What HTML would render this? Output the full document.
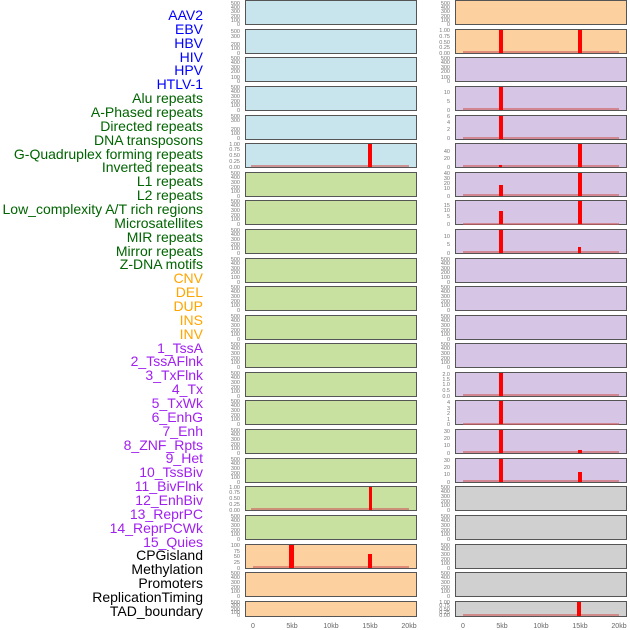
<!DOCTYPE html><html><head><style>
body{margin:0;background:#fff;width:630px;height:630px;overflow:hidden}
svg{display:block}
.l{font-family:"Liberation Sans",sans-serif;font-size:14px;text-anchor:end}
.t{font-family:"Liberation Sans",sans-serif;font-size:5.5px;fill:#777;text-anchor:end}
.x{font-family:"Liberation Sans",sans-serif;font-size:7px;fill:#666;text-anchor:middle}
.p{stroke:#555;stroke-width:1}
</style></head><body>
<svg width="630" height="630" xmlns="http://www.w3.org/2000/svg">
<g class="l">
<text x="203" y="20" fill="#0000ff">AAV2</text>
<text x="203" y="34" fill="#0000ff">EBV</text>
<text x="203" y="48" fill="#0000ff">HBV</text>
<text x="203" y="62" fill="#0000ff">HIV</text>
<text x="203" y="75" fill="#0000ff">HPV</text>
<text x="203" y="89" fill="#0000ff">HTLV-1</text>
<text x="203" y="103" fill="#006400">Alu repeats</text>
<text x="203" y="117" fill="#006400">A-Phased repeats</text>
<text x="203" y="131" fill="#006400">Directed repeats</text>
<text x="203" y="145" fill="#006400">DNA transposons</text>
<text x="203" y="159" fill="#006400">G-Quadruplex forming repeats</text>
<text x="203" y="172" fill="#006400">Inverted repeats</text>
<text x="203" y="186" fill="#006400">L1 repeats</text>
<text x="203" y="200" fill="#006400">L2 repeats</text>
<text x="203" y="214" fill="#006400">Low_complexity A/T rich regions</text>
<text x="203" y="228" fill="#006400">Microsatellites</text>
<text x="203" y="242" fill="#006400">MIR repeats</text>
<text x="203" y="256" fill="#006400">Mirror repeats</text>
<text x="203" y="269" fill="#006400">Z-DNA motifs</text>
<text x="203" y="283" fill="#ffa500">CNV</text>
<text x="203" y="297" fill="#ffa500">DEL</text>
<text x="203" y="311" fill="#ffa500">DUP</text>
<text x="203" y="325" fill="#ffa500">INS</text>
<text x="203" y="339" fill="#ffa500">INV</text>
<text x="203" y="353" fill="#a020f0">1_TssA</text>
<text x="203" y="366" fill="#a020f0">2_TssAFlnk</text>
<text x="203" y="380" fill="#a020f0">3_TxFlnk</text>
<text x="203" y="394" fill="#a020f0">4_Tx</text>
<text x="203" y="408" fill="#a020f0">5_TxWk</text>
<text x="203" y="422" fill="#a020f0">6_EnhG</text>
<text x="203" y="436" fill="#a020f0">7_Enh</text>
<text x="203" y="450" fill="#a020f0">8_ZNF_Rpts</text>
<text x="203" y="463" fill="#a020f0">9_Het</text>
<text x="203" y="477" fill="#a020f0">10_TssBiv</text>
<text x="203" y="491" fill="#a020f0">11_BivFlnk</text>
<text x="203" y="505" fill="#a020f0">12_EnhBiv</text>
<text x="203" y="519" fill="#a020f0">13_ReprPC</text>
<text x="203" y="533" fill="#a020f0">14_ReprPCWk</text>
<text x="203" y="547" fill="#a020f0">15_Quies</text>
<text x="203" y="560" fill="#000">CPGisland</text>
<text x="203" y="574" fill="#000">Methylation</text>
<text x="203" y="588" fill="#000">Promoters</text>
<text x="203" y="602" fill="#000">ReplicationTiming</text>
<text x="203" y="616" fill="#000">TAD_boundary</text>
</g>

<!-- left panels -->
<g class="p">
<rect x="245.5" y="0.5" width="171" height="24" fill="#c8e4ec"/>
<rect x="245.5" y="29.5" width="171" height="24" fill="#c8e4ec"/>
<rect x="245.5" y="57.5" width="171" height="24" fill="#c8e4ec"/>
<rect x="245.5" y="86.5" width="171" height="24" fill="#c8e4ec"/>
<rect x="245.5" y="115.5" width="171" height="24" fill="#c8e4ec"/>
<rect x="245.5" y="143.5" width="171" height="24" fill="#c8e4ec"/>
<rect x="245.5" y="172.5" width="171" height="24" fill="#c8e0a0"/>
<rect x="245.5" y="200.5" width="171" height="24" fill="#c8e0a0"/>
<rect x="245.5" y="229.5" width="171" height="24" fill="#c8e0a0"/>
<rect x="245.5" y="258.5" width="171" height="24" fill="#c8e0a0"/>
<rect x="245.5" y="286.5" width="171" height="24" fill="#c8e0a0"/>
<rect x="245.5" y="315.5" width="171" height="24" fill="#c8e0a0"/>
<rect x="245.5" y="343.5" width="171" height="24" fill="#c8e0a0"/>
<rect x="245.5" y="372.5" width="171" height="24" fill="#c8e0a0"/>
<rect x="245.5" y="400.5" width="171" height="24" fill="#c8e0a0"/>
<rect x="245.5" y="429.5" width="171" height="24" fill="#c8e0a0"/>
<rect x="245.5" y="458.5" width="171" height="24" fill="#c8e0a0"/>
<rect x="245.5" y="486.5" width="171" height="24" fill="#c8e0a0"/>
<rect x="245.5" y="515.5" width="171" height="24" fill="#c8e0a0"/>
<rect x="245.5" y="544.5" width="171" height="24" fill="#fdd0a0"/>
<rect x="245.5" y="572.5" width="171" height="24" fill="#fdd0a0"/>
<rect x="245.5" y="601.5" width="171" height="15" fill="#fdd0a0"/>
<!-- right panels -->
<rect x="455.5" y="0.5" width="171" height="24" fill="#fdd0a0"/>
<rect x="455.5" y="29.5" width="171" height="24" fill="#fdd0a0"/>
<rect x="455.5" y="57.5" width="171" height="24" fill="#d6c5e4"/>
<rect x="455.5" y="86.5" width="171" height="24" fill="#d6c5e4"/>
<rect x="455.5" y="115.5" width="171" height="24" fill="#d6c5e4"/>
<rect x="455.5" y="143.5" width="171" height="24" fill="#d6c5e4"/>
<rect x="455.5" y="172.5" width="171" height="24" fill="#d6c5e4"/>
<rect x="455.5" y="200.5" width="171" height="24" fill="#d6c5e4"/>
<rect x="455.5" y="229.5" width="171" height="24" fill="#d6c5e4"/>
<rect x="455.5" y="258.5" width="171" height="24" fill="#d6c5e4"/>
<rect x="455.5" y="286.5" width="171" height="24" fill="#d6c5e4"/>
<rect x="455.5" y="315.5" width="171" height="24" fill="#d6c5e4"/>
<rect x="455.5" y="343.5" width="171" height="24" fill="#d6c5e4"/>
<rect x="455.5" y="372.5" width="171" height="24" fill="#d6c5e4"/>
<rect x="455.5" y="400.5" width="171" height="24" fill="#d6c5e4"/>
<rect x="455.5" y="429.5" width="171" height="24" fill="#d6c5e4"/>
<rect x="455.5" y="458.5" width="171" height="24" fill="#d6c5e4"/>
<rect x="455.5" y="486.5" width="171" height="24" fill="#d0d0d0"/>
<rect x="455.5" y="515.5" width="171" height="24" fill="#d0d0d0"/>
<rect x="455.5" y="544.5" width="171" height="24" fill="#d0d0d0"/>
<rect x="455.5" y="572.5" width="171" height="24" fill="#d0d0d0"/>
<rect x="455.5" y="601.5" width="171" height="15" fill="#d0d0d0"/>
</g>

<!-- baselines -->
<g stroke="#d06060" stroke-width="1.2">
<line x1="251" x2="409" y1="166" y2="166"/>
<line x1="251" x2="409" y1="509" y2="509"/>
<line x1="253" x2="409" y1="567" y2="567"/>
<line x1="463" x2="619" y1="52" y2="52"/>
<line x1="463" x2="619" y1="109" y2="109"/>
<line x1="463" x2="619" y1="138" y2="138"/>
<line x1="463" x2="619" y1="166" y2="166"/>
<line x1="463" x2="619" y1="195" y2="195"/>
<line x1="463" x2="619" y1="224" y2="224"/>
<line x1="463" x2="619" y1="252" y2="252"/>
<line x1="463" x2="619" y1="395" y2="395"/>
<line x1="463" x2="619" y1="424" y2="424"/>
<line x1="463" x2="619" y1="452" y2="452"/>
<line x1="463" x2="619" y1="481" y2="481"/>
<line x1="463" x2="619" y1="615" y2="615"/>
</g>
<!-- bars -->
<g fill="#ff0000">
<rect x="368" y="144" width="4" height="23"/>
<rect x="369" y="487" width="3" height="23"/>
<rect x="289" y="545" width="5" height="23"/>
<rect x="368" y="554" width="4" height="14"/>
<rect x="499" y="30" width="4" height="23"/>
<rect x="578" y="30" width="4" height="23"/>
<rect x="499" y="87" width="4" height="23"/>
<rect x="499" y="116" width="4" height="23"/>
<rect x="499" y="165" width="3" height="2"/>
<rect x="578" y="144" width="4" height="23"/>
<rect x="499" y="185" width="4" height="11"/>
<rect x="578" y="173" width="4" height="23"/>
<rect x="499" y="211" width="4" height="13"/>
<rect x="578" y="201" width="4" height="23"/>
<rect x="499" y="230" width="4" height="23"/>
<rect x="578" y="247" width="3" height="6"/>
<rect x="499" y="373" width="4" height="23"/>
<rect x="499" y="401" width="4" height="23"/>
<rect x="499" y="430" width="4" height="23"/>
<rect x="578" y="450" width="4" height="3"/>
<rect x="499" y="459" width="4" height="23"/>
<rect x="578" y="472" width="4" height="10"/>
<rect x="577" y="602" width="4" height="14"/>
</g>

<!-- y ticks (generic) -->
<g class="t">
<text x="240" y="5">500</text><text x="240" y="9">400</text><text x="240" y="13">300</text><text x="240" y="18">200</text><text x="240" y="22">100</text><text x="240" y="26">0</text>
<text x="450" y="5">500</text><text x="450" y="9">400</text><text x="450" y="13">300</text><text x="450" y="18">200</text><text x="450" y="22">100</text><text x="450" y="26">0</text>
<text x="240" y="33">500</text><text x="240" y="38">300</text><text x="240" y="46">200</text><text x="240" y="50">100</text><text x="240" y="55">0</text>
<text x="450" y="32">1.00</text><text x="450" y="38">0.75</text><text x="450" y="44">0.50</text><text x="450" y="49">0.25</text><text x="450" y="55">0.00</text>
<text x="240" y="60">500</text><text x="240" y="64">400</text><text x="240" y="69">300</text><text x="240" y="73">200</text><text x="240" y="79">100</text><text x="240" y="83">0</text>
<text x="450" y="60">500</text><text x="450" y="64">400</text><text x="450" y="69">300</text><text x="450" y="73">200</text><text x="450" y="79">100</text><text x="450" y="83">0</text>
<text x="240" y="89">500</text><text x="240" y="93">400</text><text x="240" y="98">300</text><text x="240" y="103">200</text><text x="240" y="107">100</text><text x="240" y="112">0</text>
<text x="450" y="94">10</text><text x="450" y="103">5</text><text x="450" y="112">0</text>
<text x="240" y="118">500</text><text x="240" y="122">300</text><text x="240" y="131">200</text><text x="240" y="135">100</text><text x="240" y="140">0</text>
<text x="450" y="118">6</text><text x="450" y="124">4</text><text x="450" y="131">2</text><text x="450" y="140">0</text>
<text x="240" y="146">1.00</text><text x="240" y="151">0.75</text><text x="240" y="157">0.50</text><text x="240" y="163">0.25</text><text x="240" y="169">0.00</text>
<text x="450" y="153">40</text><text x="450" y="160">20</text><text x="450" y="169">0</text>
<text x="240" y="175">500</text><text x="240" y="179">400</text><text x="240" y="184">300</text><text x="240" y="189">200</text><text x="240" y="193">100</text><text x="240" y="198">0</text>
<text x="450" y="175">40</text><text x="450" y="180">30</text><text x="450" y="185">20</text><text x="450" y="190">10</text><text x="450" y="198">0</text>
<text x="240" y="203">500</text><text x="240" y="207">400</text><text x="240" y="212">300</text><text x="240" y="217">200</text><text x="240" y="221">100</text><text x="240" y="226">0</text>
<text x="450" y="207">15</text><text x="450" y="212">10</text><text x="450" y="218">5</text><text x="450" y="226">0</text>
<text x="240" y="232">500</text><text x="240" y="236">400</text><text x="240" y="241">300</text><text x="240" y="246">200</text><text x="240" y="250">100</text><text x="240" y="255">0</text>
<text x="450" y="238">10</text><text x="450" y="246">5</text><text x="450" y="255">0</text>
</g>
<g class="t">
<text x="240" y="261">500</text><text x="240" y="265">400</text><text x="240" y="270">300</text><text x="240" y="274">200</text><text x="240" y="279">100</text><text x="240" y="284">0</text>
<text x="450" y="261">500</text><text x="450" y="265">400</text><text x="450" y="270">300</text><text x="450" y="274">200</text><text x="450" y="279">100</text><text x="450" y="284">0</text>
<text x="240" y="289">500</text><text x="240" y="293">400</text><text x="240" y="298">300</text><text x="240" y="303">200</text><text x="240" y="307">100</text><text x="240" y="312">0</text>
<text x="450" y="289">500</text><text x="450" y="293">400</text><text x="450" y="298">300</text><text x="450" y="303">200</text><text x="450" y="307">100</text><text x="450" y="312">0</text>
<text x="240" y="318">500</text><text x="240" y="322">400</text><text x="240" y="327">300</text><text x="240" y="332">200</text><text x="240" y="336">100</text><text x="240" y="341">0</text>
<text x="450" y="318">500</text><text x="450" y="322">400</text><text x="450" y="327">300</text><text x="450" y="332">200</text><text x="450" y="336">100</text><text x="450" y="341">0</text>
<text x="240" y="346">500</text><text x="240" y="350">400</text><text x="240" y="355">300</text><text x="240" y="360">200</text><text x="240" y="364">100</text><text x="240" y="369">0</text>
<text x="450" y="346">500</text><text x="450" y="350">400</text><text x="450" y="355">300</text><text x="450" y="360">200</text><text x="450" y="364">100</text><text x="450" y="369">0</text>
<text x="240" y="375">500</text><text x="240" y="379">400</text><text x="240" y="384">300</text><text x="240" y="389">200</text><text x="240" y="393">100</text><text x="240" y="398">0</text>
<text x="450" y="376">2.0</text><text x="450" y="381">1.5</text><text x="450" y="386">1.0</text><text x="450" y="392">0.5</text><text x="450" y="398">0.0</text>
<text x="240" y="403">500</text><text x="240" y="407">400</text><text x="240" y="412">300</text><text x="240" y="417">200</text><text x="240" y="421">100</text><text x="240" y="426">0</text>
<text x="450" y="404">4</text><text x="450" y="410">3</text><text x="450" y="415">2</text><text x="450" y="421">1</text><text x="450" y="426">0</text>
<text x="240" y="432">500</text><text x="240" y="436">400</text><text x="240" y="441">300</text><text x="240" y="446">200</text><text x="240" y="450">100</text><text x="240" y="455">0</text>
<text x="450" y="433">30</text><text x="450" y="440">20</text><text x="450" y="447">10</text><text x="450" y="455">0</text>
<text x="240" y="461">500</text><text x="240" y="465">400</text><text x="240" y="470">300</text><text x="240" y="475">200</text><text x="240" y="479">100</text><text x="240" y="484">0</text>
<text x="450" y="462">30</text><text x="450" y="469">20</text><text x="450" y="476">10</text><text x="450" y="484">0</text>
<text x="240" y="489">1.00</text><text x="240" y="494">0.75</text><text x="240" y="500">0.50</text><text x="240" y="506">0.25</text><text x="240" y="512">0.00</text>
<text x="450" y="489">500</text><text x="450" y="493">400</text><text x="450" y="498">300</text><text x="450" y="503">200</text><text x="450" y="507">100</text><text x="450" y="512">0</text>
<text x="240" y="518">500</text><text x="240" y="522">400</text><text x="240" y="527">300</text><text x="240" y="532">200</text><text x="240" y="536">100</text><text x="240" y="541">0</text>
<text x="450" y="518">500</text><text x="450" y="522">400</text><text x="450" y="527">300</text><text x="450" y="532">200</text><text x="450" y="536">100</text><text x="450" y="541">0</text>
<text x="240" y="547">100</text><text x="240" y="553">75</text><text x="240" y="558">50</text><text x="240" y="564">25</text><text x="240" y="570">0</text>
<text x="450" y="547">500</text><text x="450" y="551">400</text><text x="450" y="556">300</text><text x="450" y="561">200</text><text x="450" y="565">100</text><text x="450" y="570">0</text>
<text x="240" y="575">500</text><text x="240" y="579">400</text><text x="240" y="584">300</text><text x="240" y="589">200</text><text x="240" y="593">100</text><text x="240" y="598">0</text>
<text x="450" y="575">500</text><text x="450" y="579">400</text><text x="450" y="584">300</text><text x="450" y="589">200</text><text x="450" y="593">100</text><text x="450" y="598">0</text>
<text x="240" y="604">500</text><text x="240" y="607">300</text><text x="240" y="611">200</text><text x="240" y="614">100</text><text x="240" y="617">0</text>
<text x="450" y="604">1.00</text><text x="450" y="607">0.75</text><text x="450" y="611">0.50</text><text x="450" y="614">0.25</text><text x="450" y="617">0.00</text>
</g>
<!-- x ticks -->
<g class="x">
<text x="253" y="628">0</text><text x="292" y="628">5kb</text><text x="331" y="628">10kb</text><text x="370" y="628">15kb</text><text x="409" y="628">20kb</text>
<text x="463" y="628">0</text><text x="502" y="628">5kb</text><text x="541" y="628">10kb</text><text x="580" y="628">15kb</text><text x="619" y="628">20kb</text>
</g>
</svg>
</body></html>
